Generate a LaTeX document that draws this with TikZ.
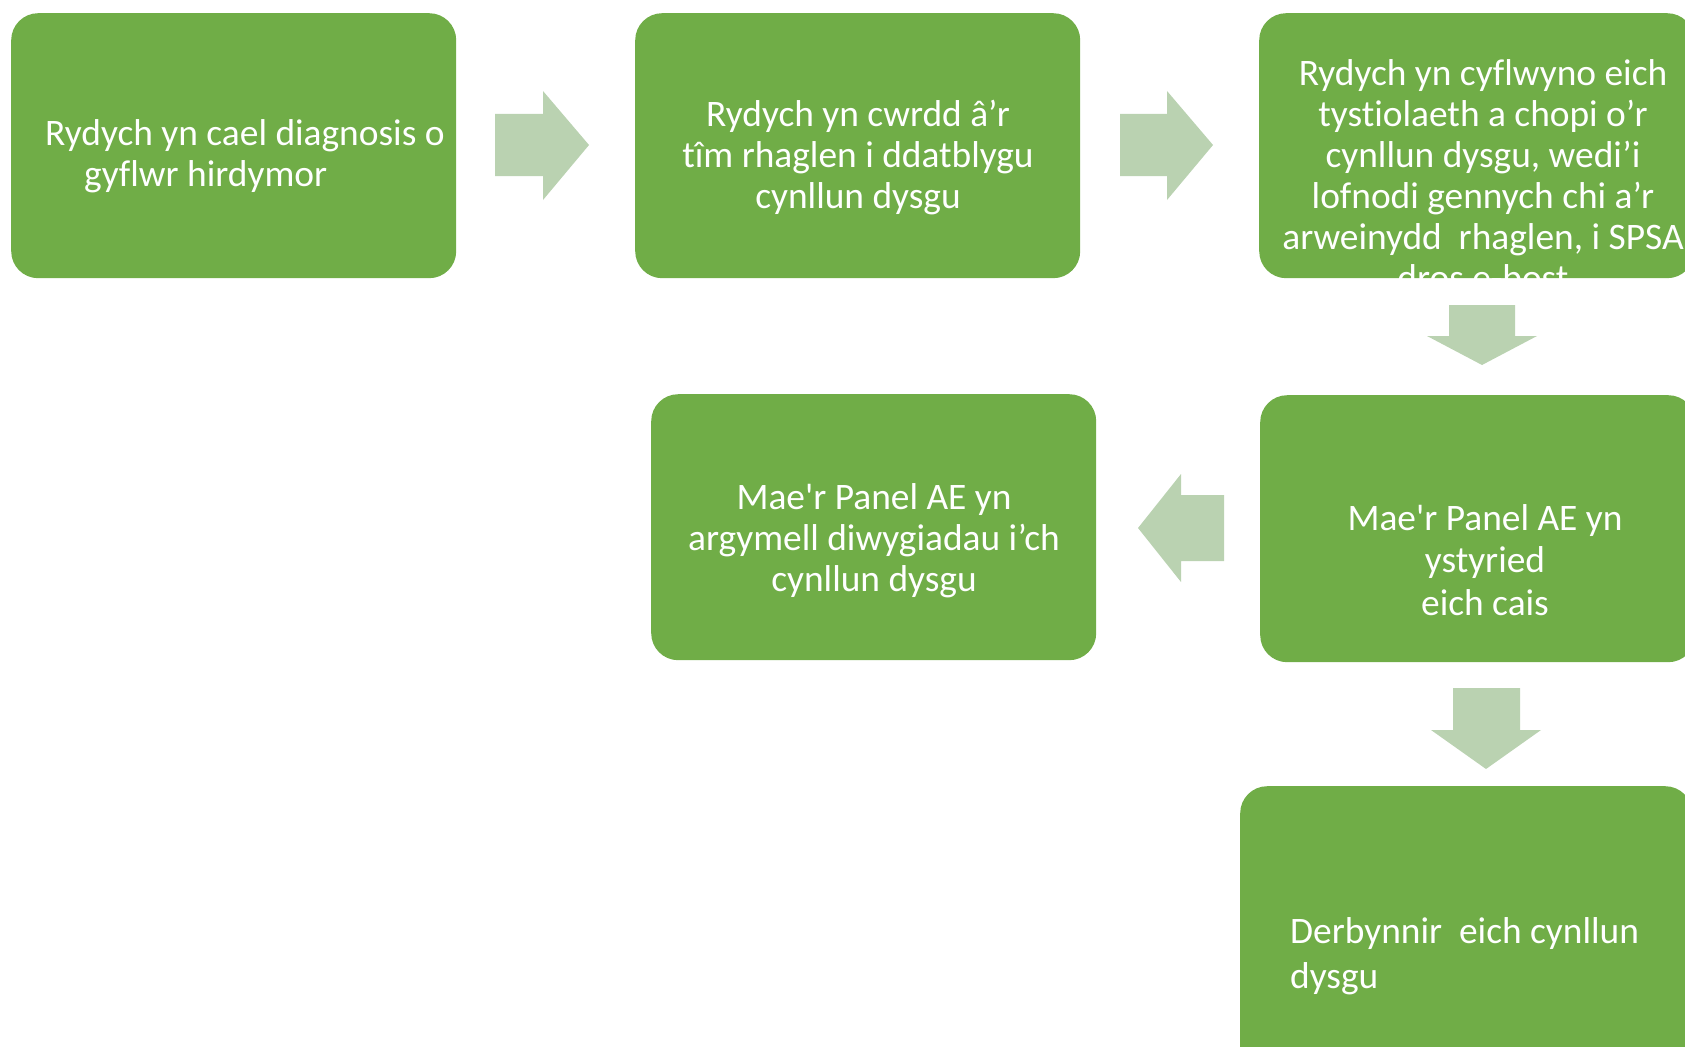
\documentclass[tikz,border=0pt]{standalone}
\usepackage{fontspec}
\setmainfont{Carlito}[Ligatures={TeXOff,NoCommon}]
\definecolor{boxgreen}{RGB}{112,173,71}
\definecolor{arrowgreen}{RGB}{186,210,177}
\begin{document}
\begin{tikzpicture}[x=1pt,y=-1pt,
  box/.style={fill=boxgreen, rounded corners=27pt, draw=none, inner sep=0pt, anchor=north west},
  arr/.style={fill=arrowgreen},
  txt/.style={text=white, font=\fontsize{37.4}{41}\selectfont, inner sep=0pt}]
\clip (0,0) rectangle (1685,1046);
% boxes
\node[box, minimum width=445pt, minimum height=265pt] (b1) at (11,13) {};
\node[box, minimum width=445pt, minimum height=265pt] (b2) at (635,13) {};
\node[box, minimum width=435pt, minimum height=265pt] (b3) at (1259,13) {};
\node[box, minimum width=445pt, minimum height=266pt] (b4) at (651,394) {};
\node[box, minimum width=435pt, minimum height=267pt] (b5) at (1260,395) {};
\node[box, minimum width=452pt, minimum height=290pt] (b6) at (1240,786) {};
% arrows
\fill[arr] (495,114) -- (543,114) -- (543,91) -- (589,145) -- (543,200) -- (543,176) -- (495,176) -- cycle;
\fill[arr] (1120,114) -- (1167,114) -- (1167,91) -- (1213,145) -- (1167,200) -- (1167,176) -- (1120,176) -- cycle;
\fill[arr] (1449,305) -- (1515,305) -- (1515,336) -- (1537,336) -- (1482,365) -- (1427,336) -- (1449,336) -- cycle;
\fill[arr] (1224,495) -- (1181,495) -- (1181,474) -- (1138,528) -- (1181,582) -- (1181,561) -- (1224,561) -- cycle;
\fill[arr] (1453,688) -- (1520,688) -- (1520,730) -- (1541,730) -- (1486,769) -- (1431,730) -- (1453,730) -- cycle;
% texts (base anchor = baseline of the last line)
\node[txt, anchor=base west, align=left] (t1) at (45,186) {Rydych yn cael diagnosis o\\\hspace*{39pt}gyflwr hirdymor};
\node[txt, anchor=base, align=center] (t2) at (858,208) {Rydych yn cwrdd â’r\\tîm rhaglen i ddatblygu\\cynllun dysgu};
\begin{scope}
\clip[rounded corners=27pt] (1259,13) rectangle (1694,278);
\node[txt, anchor=base, align=center] (t3) at (1483,290) {Rydych yn cyflwyno eich\\tystiolaeth a chopi o’r\\cynllun dysgu, wedi’i\\lofnodi gennych chi a’r\\arweinydd\ \ rhaglen, i SPSA\\dros e-bost};
\end{scope}
\node[txt, anchor=base, align=center] (t4) at (874,591) {Mae'r Panel AE yn\\argymell diwygiadau i’ch\\cynllun dysgu};
\node[txt, anchor=base, align=center] (t5) at (1485,615) {Mae'r Panel AE yn\\[1.5pt]ystyried\\[1.5pt]eich cais};
\node[txt, anchor=base west, align=left] (t6) at (1290,988) {Derbynnir\ \ eich cynllun\\[4pt]dysgu};
\end{tikzpicture}
\end{document}
